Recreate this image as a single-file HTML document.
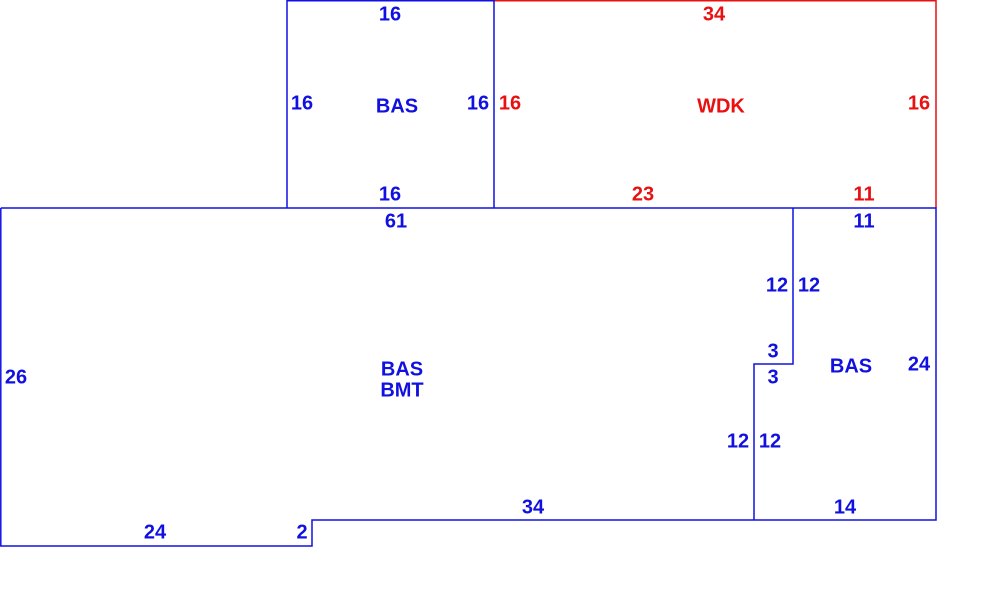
<!DOCTYPE html>
<html><head><meta charset="utf-8"><style>
html,body{margin:0;padding:0;background:#fff;width:1000px;height:615px;overflow:hidden}
svg{display:block}
text{font-family:"Liberation Sans",Arial,sans-serif;font-weight:bold;font-size:20px;text-anchor:middle;dominant-baseline:middle}
.b{fill:#1010e0}.r{fill:#e81010}
</style></head><body>
<svg width="1000" height="615" viewBox="0 0 1000 615">
<g fill="none" stroke-width="1.5">
<polyline stroke="#e81010" points="494,0.8 936,0.8 936,208"/>
<polyline stroke="#1010e0" points="287,208 287,0.8 494,0.8 494,208"/>
<polyline stroke="#1010e0" points="0.8,208 936,208 936,520 312,520 312,546 0.8,546 0.8,208"/>
<polyline stroke="#1010e0" points="793,208 793,364 754,364 754,520"/>
</g>
<g transform="translate(0,1)">
<text class="b" x="390" y="14">16</text>
<text class="b" x="302" y="103">16</text>
<text class="b" x="397" y="106">BAS</text>
<text class="b" x="478" y="103">16</text>
<text class="b" x="390" y="194">16</text>
<text class="r" x="714" y="14">34</text>
<text class="r" x="510" y="103">16</text>
<text class="r" x="721" y="106">WDK</text>
<text class="r" x="919" y="103">16</text>
<text class="r" x="643" y="194">23</text>
<text class="r" x="864" y="194">11</text>
<text class="b" x="396" y="221">61</text>
<text class="b" x="864" y="221">11</text>
<text class="b" x="777" y="285">12</text>
<text class="b" x="809" y="285">12</text>
<text class="b" x="773" y="351">3</text>
<text class="b" x="773" y="377">3</text>
<text class="b" x="851" y="366">BAS</text>
<text class="b" x="919" y="364">24</text>
<text class="b" x="16" y="377">26</text>
<text class="b" x="402" y="369">BAS</text>
<text class="b" x="402" y="390">BMT</text>
<text class="b" x="738" y="441">12</text>
<text class="b" x="770" y="441">12</text>
<text class="b" x="533" y="507">34</text>
<text class="b" x="845" y="507">14</text>
<text class="b" x="155" y="532">24</text>
<text class="b" x="302" y="532">2</text>
</g>
</svg>
</body></html>
